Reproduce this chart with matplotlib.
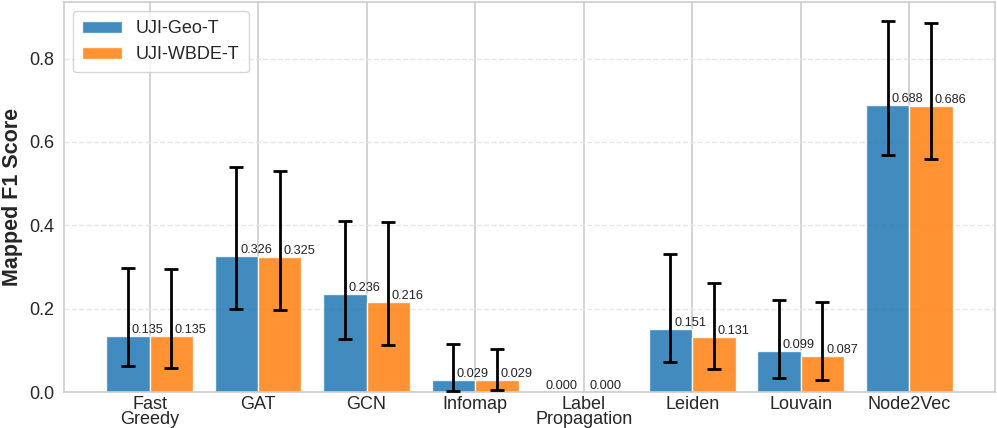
import numpy as np
import matplotlib
matplotlib.use("Agg")
import matplotlib.pyplot as plt
import seaborn as sns

methods = ["Fast\nGreedy", "GAT", "GCN", "Infomap", "Label\nPropagation",
           "Leiden", "Louvain", "Node2Vec"]
series = ["UJI-Geo-T", "UJI-WBDE-T"]

geo_f1 = [0.135, 0.326, 0.236, 0.029, 0.000, 0.151, 0.099, 0.688]
wbde_f1 = [0.135, 0.325, 0.216, 0.029, 0.000, 0.131, 0.087, 0.686]

# error bar ends (lower, upper)
geo_low = [0.062, 0.200, 0.127, 0.002, 0.000, 0.072, 0.033, 0.569]
geo_high = [0.297, 0.539, 0.410, 0.115, 0.000, 0.332, 0.222, 0.891]
wbde_low = [0.057, 0.198, 0.112, 0.005, 0.000, 0.055, 0.029, 0.560]
wbde_high = [0.296, 0.531, 0.409, 0.104, 0.000, 0.261, 0.216, 0.885]

sns.set_style("whitegrid")
plt.rcParams['font.family'] = ['Arial', 'Liberation Sans', 'DejaVu Sans']

fig, ax = plt.subplots(figsize=(9.97, 4.28), dpi=100)
fig.subplots_adjust(left=0.064, right=0.998, bottom=0.084, top=0.995)

x = np.arange(len(methods))
width = 0.4
colors = ["#1f77b4", "#ff7f0e"]

for i, (vals, low, high) in enumerate([(geo_f1, geo_low, geo_high),
                                       (wbde_f1, wbde_low, wbde_high)]):
    vals = np.array(vals)
    low = np.array(low)
    high = np.array(high)
    pos = x + (i - 0.5) * width
    bars = ax.bar(pos, vals, width, color=colors[i], alpha=0.85,
                  edgecolor="white", linewidth=1, label=series[i], zorder=2)
    # no error bar drawn where the spread is zero
    m = (high - low) > 0
    yerr = np.vstack([vals[m] - low[m], high[m] - vals[m]])
    ax.errorbar(pos[m], vals[m], yerr=yerr, fmt="none", ecolor="black",
                elinewidth=2, capsize=5, capthick=2, zorder=3)
    for b, v in zip(bars, vals):
        if v > 0:
            tx = b.get_x() + b.get_width() - 0.02
        else:
            tx = b.get_x() + b.get_width() / 2
        ax.text(tx, v, f"{v:.3f}", ha="center", va="bottom", fontsize=9.2,
                color="#222222", zorder=4)

ax.set_xticks(x)
ax.set_xticklabels(methods, fontsize=13, linespacing=0.92)
ax.tick_params(axis="y", labelsize=13)
ax.tick_params(axis="x", pad=-1)
ax.set_ylabel("Mapped F1 Score", fontsize=15.5, fontweight="bold")

ax.xaxis.grid(True, color="#cccccc", linewidth=1.2)
ax.yaxis.grid(True, color="#e6e6e6", linestyle="--", linewidth=1)
ax.set_axisbelow(True)
for s in ax.spines.values():
    s.set_color("#cccccc")
    s.set_linewidth(1.2)

ax.legend(loc="upper left", fontsize=13, frameon=True, edgecolor="#cccccc",
          handlelength=2.2, borderpad=0.5)

fig.savefig("out.png", dpi=100)
